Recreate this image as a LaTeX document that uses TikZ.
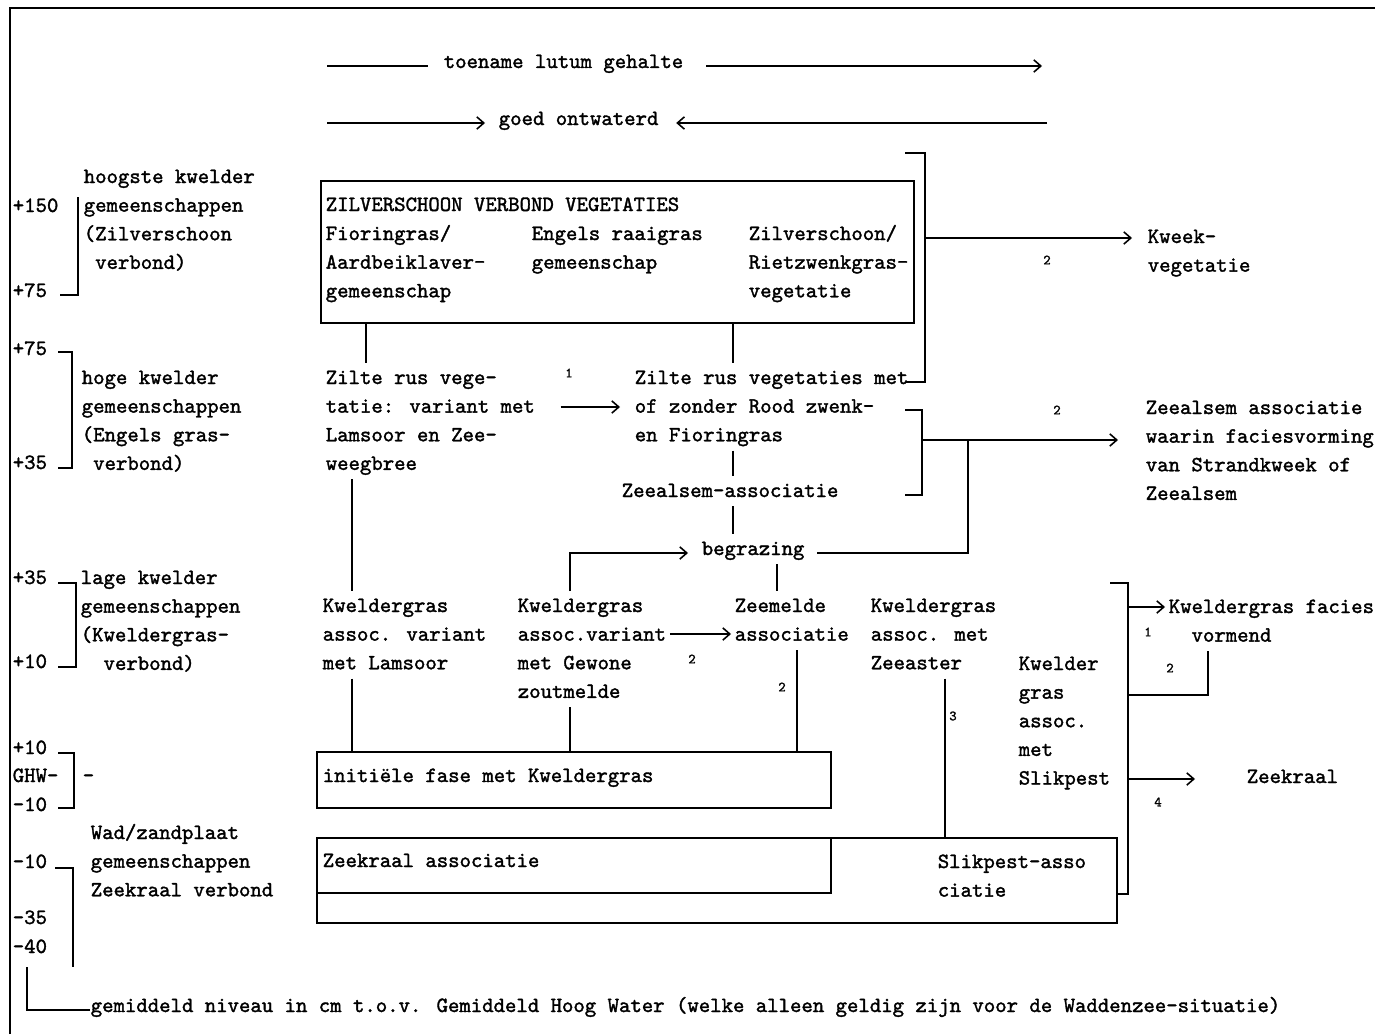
\documentclass[tikz,border=0pt]{standalone}
\usepackage{fontspec}
\newfontfamily\typfont{lmmono10-regular.otf}[FakeBold=1.6]
\usepackage{tikz}
\usetikzlibrary{arrows.meta,calc,fit,positioning}

% 多行文字, 基线 = 第一行
\newcommand\regels[1]{\begin{tabular}[t]{@{}l@{}}#1\end{tabular}}

\begin{document}
\begin{tikzpicture}[
    x=0.02cm, y=-0.02cm,
    line width=0.9pt,
    % 文字样式
    tekst/.style={
        font=\typfont\fontsize{12.36pt}{16.3pt}\selectfont,
        inner sep=0pt, anchor=base west
    },
    % 小号数字
    nummer/.style={font=\typfont\fontsize{8pt}{9pt}\selectfont, inner sep=0pt},
    % 方框
    vak/.style={draw, inner sep=0pt},
    % 箭头
    pijl/.style={-{Straight Barb[length=4pt,width=7pt]}}
]
\useasboundingbox (0,0) rectangle (1375,1034);

% 外框
\draw (10,1034) -- (10,8) -- (1375,8);

% 左边的高度刻度
\node[tekst] (s150) at (12,212) {\regels{+150}};
\node[tekst] (s75a) at (12,297) {\regels{+75}};
\node[tekst] (s75b) at (12,355) {\regels{+75}};
\node[tekst] (s35a) at (12,469) {\regels{+35}};
\node[tekst] (s35b) at (12,584) {\regels{+35}};
\node[tekst] (s10a) at (12,668) {\regels{+10}};
\node[tekst] (s10b) at (12,754) {\regels{+10}};
\node[tekst] (ghw) at (12,782) {\regels{GHW-}};
\node[tekst] (m10a) at (12,811) {\regels{-10}};
\node[tekst] (m10b) at (12,868) {\regels{-10}};
\node[tekst] (m35) at (12,924) {\regels{-35}};
\node[tekst] (m40) at (12,953) {\regels{-40}};
\node[tekst] (streep) at (82,782) {\regels{-}};

\node[tekst] (hoogste) at (83,183) {\regels{hoogste kwelder\\gemeenschappen\\(Zilverschoon\\~verbond)}};
\node[tekst] (hoge) at (81,384) {\regels{hoge kwelder\\gemeenschappen\\(Engels gras-\\~verbond)}};
\node[tekst] (lage) at (80,584) {\regels{lage kwelder\\gemeenschappen\\(Kweldergras-\\~~verbond)}};
\node[tekst] (wad) at (90,839) {\regels{Wad/zandplaat\\gemeenschappen\\Zeekraal verbond}};

% 刻度括号
\draw (60,295) -- (78,295) -- (78,197);
\draw (58,352) -- (72,352) -- (72,468) -- (58,468);
\draw (58,583) -- (76,583) -- (76,667) -- (58,667);
\draw (58,753) -- (74,753) -- (74,808) -- (58,808);
\draw (55,868) -- (73,868) -- (73,967);

% 底部说明
\node[tekst] (uitleg) at (90,1012) {\regels{gemiddeld niveau in cm t.o.v. Gemiddeld Hoog Water (welke alleen geldig zijn voor de Waddenzee-situatie)}};
\coordinate (uitlegL) at (27,967);
\draw (uitlegL) |- ($(uitleg.base west)+(0,-2)$);

% 上方两条箭头
\node[tekst] (toename) at (443,68) {\regels{toename lutum gehalte}};
\coordinate (tA) at (327,66);
\coordinate (tB) at (1042,66);
\draw (tA) -- ([xshift=-0.3cm]toename.base west |- tA);
\draw[pijl] ([xshift=0.44cm]toename.base east |- tA) -- (tB);

\node[tekst] (ontwaterd) at (498,125) {\regels{goed ontwaterd}};
\coordinate (oA) at (327,123);
\coordinate (oB) at (1047,123);
\draw[pijl] (oA) -- ([xshift=-0.26cm]ontwaterd.base west |- oA);
\draw[pijl] (oB) -- ([xshift=0.34cm]ontwaterd.base east |- oB);

% 银草群落方框
\node[vak, fit={(321,181) (914,323)}] (zilver) {};
\node[tekst] (zvTitel) at (325,211) {\regels{ZILVERSCHOON VERBOND VEGETATIES}};
\node[tekst] (fioring) at (325,240) {\regels{Fioringras/\\Aardbeiklaver-\\gemeenschap}};
\node[tekst] (engels) at (531,240) {\regels{Engels raaigras\\gemeenschap}};
\node[tekst] (zilvRiet) at (748,240) {\regels{Zilverschoon/\\Rietzwenkgras-\\vegetatie}};

% 中间一层
\node[tekst] (rusA) at (325,384) {\regels{Zilte rus vege-\\tatie: variant met\\Lamsoor en Zee-\\weegbree}};
\node[tekst] (rusB) at (634,384) {\regels{Zilte rus vegetaties met\\of zonder Rood zwenk-\\en Fioringras}};
\node[tekst] (zeealsem) at (621,497) {\regels{Zeealsem-associatie}};
\node[tekst] (begrazing) at (701,555) {\regels{begrazing}};

\node[tekst] (kweek) at (1147,243) {\regels{Kweek-\\vegetatie}};
\node[tekst] (zalsR) at (1145,414) {\regels{Zeealsem associatie\\waarin faciesvorming\\van Strandkweek of\\Zeealsem}};

% 竖线所在的列
\coordinate (kolA) at (366,0);
\coordinate (kolB) at (733,0);
\coordinate (kolA2) at (352,0);
\coordinate (kolC) at (968,0);
\coordinate (kolD) at (570,0);
\coordinate (kolE) at (777,0);
\coordinate (kolF) at (1208,0);
\coordinate (kolG) at (945,0);
\coordinate (kolH) at (797,0);

\draw (zilver.south -| kolA) -- (rusA.north -| kolA);
\draw (zilver.south -| kolB) -- (rusB.north -| kolB);
\draw[pijl] ($(rusA.base east)+(25,23)$) -- ($(rusB.base west)+(-14,23)$);
\node[nummer] (n1a) at (569,373) {1};

% 右边括号 -> Kweek-vegetatie
\coordinate (bkAtop) at (905,153);
\coordinate (bkA) at (925,0);
\coordinate (kweekIn) at ($(kweek.base west)+(-15,-5)$);
\draw (bkAtop) -| ($(bkA |- rusB.base east)+(0,-2)$) -- ($(rusB.base east)+(-3,-2)$);
\draw[pijl] (bkA |- kweekIn) -- (kweekIn);
\node[nummer] (n2a) at (1047,260) {2};

% 括号 -> Zeealsem associatie
\coordinate (bkBtop) at (905,410);
\coordinate (bkBbot) at (905,495);
\coordinate (bkB) at (922,0);
\coordinate (zalsIn) at ($(zalsR.base west)+(-27,26)$);
\draw (bkBtop) -| (bkB |- bkBbot) -- (bkBbot);
\draw[pijl] (bkB |- zalsIn) -- (zalsIn);
\node[nummer] (n2b) at (1057,410) {2};

\draw (rusB.south -| kolB) -- (zeealsem.north -| kolB);
\draw (zeealsem.south -| kolB) -- (begrazing.north -| kolB);
\draw ($(begrazing.base east)+(12,-2)$) -| (kolC |- zalsIn);

% 低盐沼一层
\node[tekst] (lamsoor) at (322,612) {\regels{Kweldergras\\assoc. variant\\met Lamsoor}};
\node[tekst] (gewone) at (517,612) {\regels{Kweldergras\\assoc.variant\\met Gewone\\zoutmelde}};
\node[tekst] (zeemelde) at (734,612) {\regels{Zeemelde\\associatie}};
\node[tekst] (zeeaster) at (870,612) {\regels{Kweldergras\\assoc. met\\Zeeaster}};
\node[tekst] (kwSlik) at (1018,670) {\regels{Kwelder\\gras\\assoc.\\met\\Slikpest}};
\node[tekst] (facies) at (1168,613) {\regels{Kweldergras facies\\~~vormend}};
\node[tekst] (zeekraalR) at (1246,783) {\regels{Zeekraal}};

\draw (rusA.south -| kolA2) -- (lamsoor.north -| kolA2);
\draw[pijl] (gewone.north -| kolD) |- ($(begrazing.base west)+(-13,-2)$);
\draw (begrazing.south -| kolE) -- (zeemelde.north -| kolE);
\draw[pijl] ($(gewone.base east)+(3,22)$) -- ($(zeemelde.base west)+(-3,22)$);
\node[nummer] (n2c) at (692,659) {2};
\node[nummer] (n2d) at (782,687) {2};

% 底部方框
\node[vak, fit={(317,752) (831,808)}] (initvak) {};
\node[tekst] (init) at (322,782) {\regels{initiële fase met Kweldergras}};
\node[vak, fit={(317,838) (1117,923)}] (grootvak) {};
\node[vak, fit={(317,838) (831,893)}] (zkvak) {};
\node[tekst] (zkass) at (322,867) {\regels{Zeekraal associatie}};
\node[tekst] (slikass) at (937,868) {\regels{Slikpest-asso\\ciatie}};

\draw (lamsoor.south -| kolA2) -- (initvak.north -| kolA2);
\draw (gewone.south -| kolD) -- (initvak.north -| kolD);
\draw (zeemelde.south -| kolH) -- (initvak.north -| kolH);
\draw (zeeaster.south -| kolG) -- (grootvak.north -| kolG);
\node[nummer] (n3) at (953,716) {3};

% 右下括号
\coordinate (bkCtop) at (1110,583);
\coordinate (bkC) at (1128,0);
\coordinate (faciesIn) at ($(facies.base west)+(-3,-6)$);
\coordinate (terug) at (1128,695);
\coordinate (zkIn) at ($(zeekraalR.base west)+(-51,-4)$);
\draw (bkCtop) -| (bkC |- zkvak.south) -- (grootvak.east |- zkvak.south);
\draw[pijl] (bkC |- faciesIn) -- (faciesIn);
\draw (facies.south -| kolF) |- (terug);
\draw[pijl] (bkC |- zkIn) -- (zkIn);
\node[nummer] (n1b) at (1148,632) {1};
\node[nummer] (n2e) at (1170,668) {2};
\node[nummer] (n4) at (1158,802) {4};

\end{tikzpicture}
\end{document}
